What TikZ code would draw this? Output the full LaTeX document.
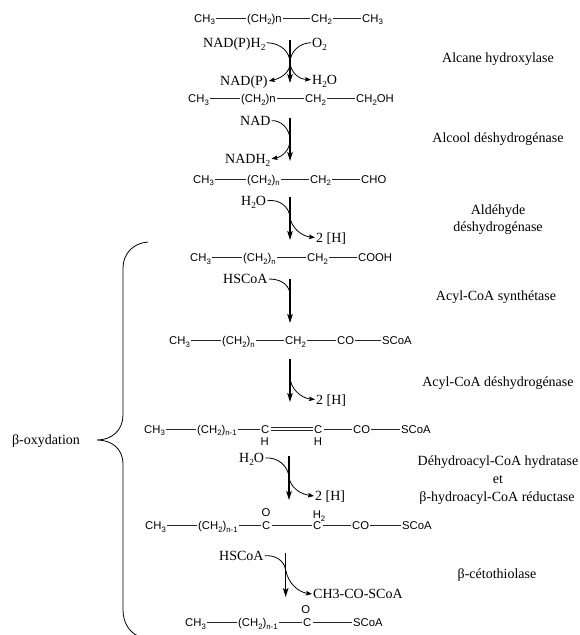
\documentclass[tikz,border=0pt]{standalone}
\usepackage{fontspec}
\setmainfont{Liberation Serif}
\setsansfont{Liberation Sans}
\usetikzlibrary{arrows.meta}
\newcommand{\sbf}[1]{\raisebox{-2.6pt}{\fontsize{7.8}{8}\selectfont #1}}
\newcommand{\sbr}[1]{\raisebox{-3pt}{\fontsize{9.3}{10}\selectfont #1}}
\tikzset{
  frag/.style={anchor=west,inner xsep=1pt,inner ysep=0pt,text height=8pt,text depth=0pt,font=\sffamily\fontsize{11.3}{13}\selectfont},
  atom/.style={inner sep=0pt,text height=8pt,text depth=0pt,font=\sffamily\fontsize{11.3}{13}\selectfont},
  reag/.style={anchor=west,inner xsep=1pt,inner ysep=0pt,text height=9pt,text depth=0pt,font=\fontsize{14}{16}\selectfont},
  enz/.style={inner sep=0pt,text height=9pt,text depth=0pt,font=\fontsize{14}{16}\selectfont},
  bond/.style={line width=0.8pt,draw=black!85},
  main/.style={line width=1.5pt,-{Stealth[length=9pt,width=5.5pt,inset=2pt]}},
  side/.style={line width=0.8pt,-{Stealth[length=6pt,width=4.5pt,inset=1pt]}},
  plain/.style={line width=0.8pt},
}
\begin{document}
\begin{tikzpicture}[x=1pt,y=-1pt]
\useasboundingbox (0,0) rectangle (580,635);
% Row 1
\node[frag] (a1) at (193,18) {CH\sbf{3}};
\node[frag] (a2) at (246,18) {(CH\sbf{2})n};
\node[frag] (a3) at (310,18) {CH\sbf{2}};
\node[frag] (a4) at (361,18) {CH\sbf{3}};
\draw[bond] (a1.east)--(a2.west); \draw[bond] (a2.east)--(a3.west); \draw[bond] (a3.east)--(a4.west);
% Row 2
\node[frag] (b1) at (187,98.7) {CH\sbf{3}};
\node[frag] (b2) at (240,98.7) {(CH\sbf{2})n};
\node[frag] (b3) at (304,98.7) {CH\sbf{2}};
\node[frag] (b4) at (355,98.7) {CH\sbf{2}OH};
\draw[bond] (b1.east)--(b2.west); \draw[bond] (b2.east)--(b3.west); \draw[bond] (b3.east)--(b4.west);
% Row 3
\node[frag] (c1) at (192,179) {CH\sbf{3}};
\node[frag] (c2) at (246,179) {(CH\sbf{2})\sbf{n}};
\node[frag] (c3) at (309,179) {CH\sbf{2}};
\node[frag] (c4) at (360,179) {CHO};
\draw[bond] (c1.east)--(c2.west); \draw[bond] (c2.east)--(c3.west); \draw[bond] (c3.east)--(c4.west);
% Row 4
\node[frag] (d1) at (189,257.7) {CH\sbf{3}};
\node[frag] (d2) at (242,257.7) {(CH\sbf{2})\sbf{n}};
\node[frag] (d3) at (306,257.7) {CH\sbf{2}};
\node[frag] (d4) at (357,257.7) {COOH};
\draw[bond] (d1.east)--(d2.west); \draw[bond] (d2.east)--(d3.west); \draw[bond] (d3.east)--(d4.west);
% Row 5
\node[frag] (e1) at (168,340.7) {CH\sbf{3}};
\node[frag] (e2) at (221,340.7) {(CH\sbf{2})\sbf{n}};
\node[frag] (e3) at (284,340.7) {CH\sbf{2}};
\node[frag] (e4) at (336,340.7) {CO};
\node[frag] (e5) at (381,340.7) {SCoA};
\draw[bond] (e1.east)--(e2.west); \draw[bond] (e2.east)--(e3.west); \draw[bond] (e3.east)--(e4.west); \draw[bond] (e4.east)--(e5.west);
% Row 6
\node[frag] (f1) at (143,429) {CH\sbf{3}};
\node[frag] (f2) at (196,429) {(CH\sbf{2})\sbf{n-1}};
\node[frag] (f3) at (260,429) {C};
\node[frag] (f4) at (313,429) {C};
\node[frag] (f5) at (352,429) {CO};
\node[frag] (f6) at (400,429) {SCoA};
\node[atom] (f7) at (264.7,441.7) {H};
\node[atom] (f8) at (318,441.7) {H};
\draw[bond] (f1.east)--(f2.west); \draw[bond] (f2.east)--(f3.west); \draw[bond] (f4.east)--(f5.west); \draw[bond] (f5.east)--(f6.west);
\draw[bond] ([yshift=1.6pt]f3.east)--([yshift=1.6pt]f4.west);
\draw[bond] ([yshift=-1.6pt]f3.east)--([yshift=-1.6pt]f4.west);
% Row 7
\node[frag] (g1) at (144,525.7) {CH\sbf{3}};
\node[frag] (g2) at (197,525.7) {(CH\sbf{2})\sbf{n-1}};
\node[frag] (g3) at (261,525.7) {C};
\node[frag] (g4) at (312,525.7) {C};
\node[frag] (g5) at (351,525.7) {CO};
\node[frag] (g6) at (401,525.7) {SCoA};
\node[atom] (g7) at (266,512.7) {O};
\node[atom] (g8) at (319,514.5) {H\sbf{2}};
\draw[bond] (g1.east)--(g2.west); \draw[bond] (g2.east)--(g3.west); \draw[bond] (g3.east)--(g4.west); \draw[bond] (g4.east)--(g5.west); \draw[bond] (g5.east)--(g6.west);
% Row 8
\node[frag] (h1) at (184,622.7) {CH\sbf{3}};
\node[frag] (h2) at (237,622.7) {(CH\sbf{2})\sbf{n-1}};
\node[frag] (h3) at (302,622.7) {C};
\node[frag] (h4) at (352,622.7) {SCoA};
\node[atom] (h5) at (305.7,609) {O};
\draw[bond] (h1.east)--(h2.west); \draw[bond] (h2.east)--(h3.west); \draw[bond] (h3.east)--(h4.west);
% Step 1
\node[reag] (r1) at (202,42.7) {NAD(P)H\sbr{2}};
\node[reag] (r2) at (311,42.7) {O\sbr{2}};
\node[reag] (r3) at (219,81) {NAD(P)};
\node[reag] (r4) at (311,79.7) {H\sbr{2}O};
\coordinate (s1a) at (290,40); \coordinate (s1b) at (290,83); \coordinate (s1m) at (290,63);
\draw[main] (s1a)--(s1b);
\draw[side] (r1.east) .. controls (281,43) and (290,52) .. (s1m) .. controls (290,72) and (282,78) .. (r3.east);
\draw[side] (r2.west) .. controls (299,43) and (290,52) .. (s1m) .. controls (291,72) and (298,79) .. (r4.west);
% Step 2
\node[reag] (r5) at (239,120.7) {NAD};
\node[reag] (r6) at (224,158.7) {NADH\sbr{2}};
\coordinate (s2a) at (290,118); \coordinate (s2b) at (290,161); \coordinate (s2m) at (290,140);
\draw[main] (s2a)--(s2b);
\draw[side] (r5.east) .. controls (281,120) and (290,129) .. (s2m) .. controls (290,150) and (282,157) .. (r6.east);
% Step 3
\node[reag] (r7) at (240,200.7) {H\sbr{2}O};
\node[reag] (r8) at (315,237.5) {2 [H]};
\coordinate (s3a) at (290,197); \coordinate (s3b) at (290,240); \coordinate (s3m) at (290,217);
\draw[main] (s3a)--(s3b);
\draw[side] (r7.east) .. controls (280,199) and (289,207) .. (s3m) .. controls (291,227) and (301,236) .. (r8.west);
% Step 4
\node[reag] (r9) at (222,279) {HSCoA};
\coordinate (s4a) at (290,279); \coordinate (s4b) at (290,323); \coordinate (s4m) at (290,293);
\draw[main] (s4a)--(s4b);
\draw[plain] (r9.east) .. controls (279,279) and (288,283) .. (s4m);
% Step 5
\node[reag] (r10) at (315,399.5) {2 [H]};
\coordinate (s5a) at (290,359); \coordinate (s5b) at (290,402); \coordinate (s5m) at (290,378);
\draw[main] (s5a)--(s5b);
\draw[side] (s5m) .. controls (291,389) and (301,398) .. (r10.west);
% Step 6
\node[reag] (r11) at (238,458) {H\sbr{2}O};
\node[reag] (r12) at (314,496) {2 [H]};
\coordinate (s6a) at (289,456); \coordinate (s6b) at (289,500); \coordinate (s6m) at (289,477);
\draw[main] (s6a)--(s6b);
\draw[side] (r11.east) .. controls (278,457) and (288,466) .. (s6m) .. controls (290,487) and (300,494) .. (r12.west);
% Step 7
\node[reag] (r13) at (218,555.7) {HSCoA};
\node[reag] (r14) at (312,594) {CH3-CO-SCoA};
\coordinate (s7a) at (285.7,553); \coordinate (s7b) at (285.7,597); \coordinate (s7m) at (285.7,570);
\draw[main] (s7a)--(s7b);
\draw[side] (r13.east) .. controls (275,555) and (284,560) .. (s7m) .. controls (288,583) and (298,592) .. (r14.west);
% Enzymes
\node[enz] (n1) at (498,58) {Alcane hydroxylase};
\node[enz] (n2) at (498,137.7) {Alcool déshydrogénase};
\node[enz] (n3) at (498,210) {Aldéhyde};
\node[enz] (n4) at (498,226.7) {déshydrogénase};
\node[enz] (n5) at (496,296) {Acyl-CoA synthétase};
\node[enz] (n6) at (498,381.7) {Acyl-CoA déshydrogénase};
\node[enz] (n7) at (498,461) {Déhydroacyl-CoA hydratase};
\node[enz] (n8) at (498,479) {et};
\node[enz] (n9) at (497,497) {β-hydroacyl-CoA réductase};
\node[enz] (n10) at (497,574) {β-cétothiolase};
\node[enz] (n11) at (46,440) {β-oxydation};
% Brace
\coordinate (bt) at (148,242); \coordinate (bm) at (97,440); \coordinate (bb) at (138,636);
\draw[plain] (bt) .. controls (133,243) and (123,254) .. (123,268) -- (123,415)
  .. controls (123,430) and (112,440) .. (bm)
  .. controls (112,440) and (123,449) .. (123,464) -- (123,610)
  .. controls (123,622) and (129,632) .. (bb);
\end{tikzpicture}
\end{document}
